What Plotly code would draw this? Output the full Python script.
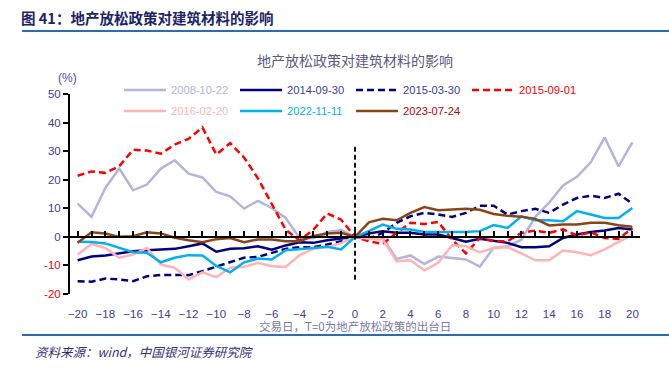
import plotly.graph_objects as go

days = list(range(-20, 21))

s2008 = [11.6, 7.0, 17.1, 23.9, 16.3, 18.3, 23.9, 26.8, 22.1, 20.8, 15.7, 14.2, 9.9, 12.6, 10.1, 6.6, -0.3, -0.5, 1.7, 2.4,
         0, 0, -0.3, -7.7, -6.5, -9.5, -6.9, -7.5, -7.9, -10.4, -3.8, -3.3, -1.0, 7.0, 12.0, 18.0, 21.0, 26.1, 34.8, 24.7, 33.1]
s2014 = [-8.2, -6.9, -6.5, -5.7, -5.0, -4.7, -4.4, -4.2, -3.3, -2.3, -5.2, -4.2, -4.0, -3.3, -4.5, -3.0, -1.9, -2.1, -1.2, -0.7,
         0, 1.2, 2.0, 1.4, 1.4, 0.8, 0.8, -0.4, -1.7, -0.7, -1.5, -2.1, -3.6, -3.6, -3.3, -0.4, 0.8, 1.7, 2.2, 3.1, 2.6]
s2015a = [-15.5, -15.7, -14.6, -14.9, -15.5, -13.8, -13.3, -13.3, -13.4, -12.0, -10.5, -8.9, -7.3, -7.0, -5.6, -4.2, -3.6, -3.6, -2.7, -1.5,
          0, -0.7, 1.4, 4.9, 7.2, 8.4, 7.8, 7.0, 8.4, 10.9, 10.9, 7.8, 9.0, 9.8, 8.4, 11.3, 13.6, 14.4, 13.6, 15.1, 11.6]
s2015b = [21.4, 22.9, 22.4, 24.7, 30.5, 30.2, 29.1, 32.3, 34.3, 38.3, 28.8, 32.8, 27.8, 20.5, 11.5, 2.5, -1.3, 2.5, 8.2, 6.0,
          0, -1.5, -2.5, 1.4, 4.9, 4.5, 5.2, -0.9, -5.8, -0.4, -1.5, -1.5, 1.4, 2.2, 1.4, 2.6, 0.5, 1.6, -0.4, -0.7, 3.1]
s2016 = [-6.2, -2.5, -3.9, -7.3, -6.2, -3.9, -9.7, -10.8, -14.9, -12.4, -14.1, -10.8, -10.5, -9.1, -10.3, -10.5, -6.4, -4.2, -3.5, -2.2,
         0, -0.7, -0.9, -8.5, -8.2, -11.7, -9.1, -2.9, -3.3, -5.4, -3.9, -3.6, -5.8, -8.2, -8.2, -4.8, -5.4, -6.4, -4.4, -1.9, 0.8]
s2022 = [-1.7, -1.8, -2.3, -3.9, -5.4, -5.6, -8.9, -7.3, -6.4, -6.5, -10.2, -12.4, -8.9, -7.6, -7.9, -4.7, -4.2, -3.9, -3.5, -4.4,
         0, 2.0, 4.3, 2.8, 2.6, 1.7, 1.7, 1.7, 1.7, 2.0, 4.1, 3.1, 7.2, 5.8, 5.8, 5.5, 9.0, 7.8, 6.6, 6.6, 10.1]
s2023 = [-2.1, 1.6, 1.2, 0.0, 0.2, 1.6, 1.2, -0.3, -1.2, -1.9, -0.8, -0.4, -1.9, -0.9, -0.9, -1.5, -1.5, 0.3, 1.2, 1.4,
         0, 5.1, 6.3, 5.8, 8.4, 10.4, 9.3, 9.5, 9.8, 9.5, 8.0, 7.4, 7.0, 6.3, 4.0, 4.3, 4.3, 4.9, 4.9, 4.1, 3.5]

series_names = ["2008-10-22", "2014-09-30", "2015-03-30", "2015-09-01", "2016-02-20", "2022-11-11", "2023-07-24"]
series_values = [s2008, s2014, s2015a, s2015b, s2016, s2022, s2023]
line_colors = ["#b4b4dc", "#000080", "#000080", "#ff0000", "#ffb4b4", "#00b0f0", "#8a4516"]
line_dashes = ["solid", "solid", "7px,4px", "7px,4px", "solid", "solid", "solid"]
legend_text_colors = ["#b4b4dc", "#3c3c9c", "#3c3c9c", "#ff0000", "#ffb4b4", "#00b0f0", "#c00000"]
legend_rows = ["legend", "legend", "legend", "legend", "legend2", "legend2", "legend2"]

y_ticks = [-20, -10, 0, 10, 20, 30, 40, 50]
x_ticks = list(range(-20, 21, 2))
event_day = 0
event_span = [-15, 32]

fig = go.Figure()
for name, vals, col, dash, tcol, lg in zip(series_names, series_values, line_colors, line_dashes,
                                           legend_text_colors, legend_rows):
    fig.add_trace(go.Scatter(
        x=days, y=vals, mode="lines",
        name=f'<span style="color:{tcol}">{name}</span>',
        line=dict(color=col, width=2.5, dash=dash),
        legend=lg,
    ))

# vertical event line on the overlay axis
fig.add_trace(go.Scatter(x=[event_day, event_day], y=event_span, mode="lines",
                         line=dict(color="black", width=1.8, dash="5px,3px"),
                         xaxis="x2", showlegend=False, hoverinfo="skip"))

xr = [-20.55, 20.55]
ytext = []
for v in y_ticks:
    c = "#ff0000" if v < 0 else "#3c3c9c"
    ytext.append(f'<span style="color:{c}">{v}</span>')

FONT = "Liberation Sans, Arial, Noto Sans CJK SC"
CJK = "Noto Sans CJK SC"

W, H = 570.0, 200.0
def px(x):
    return (x - 70) / W
def py(y):
    return (294 - y) / H

legend_common = dict(orientation="h", xanchor="left", yanchor="middle",
                     entrywidth=59, entrywidthmode="pixels", itemwidth=42,
                     font=dict(family=FONT, size=11.2), bgcolor="rgba(0,0,0,0)",
                     traceorder="normal")

fig.update_layout(
    width=669, height=371,
    margin=dict(l=70, r=29, t=94, b=77),
    paper_bgcolor="white", plot_bgcolor="white",
    font=dict(family=FONT, size=11, color="#3c3c9c"),
    showlegend=True,
    legend=dict(x=px(119), y=py(90), **legend_common),
    legend2=dict(x=px(119), y=py(111), **legend_common),
    xaxis=dict(range=xr, tickvals=x_ticks, showline=False, showgrid=False, zeroline=False,
               ticks="", ticklabelstandoff=11, tickfont=dict(size=11.5, color="#3c3c9c")),
    xaxis2=dict(range=xr, overlaying="x", anchor="free", position=20 / 70, side="bottom",
                showline=True, linecolor="black", linewidth=2, ticks="inside", ticklen=5,
                tickwidth=1.5, tickcolor="black", tick0=0, dtick=1, showticklabels=False,
                showgrid=False, zeroline=False),
    yaxis=dict(range=[-20, 50], tickvals=y_ticks, ticktext=ytext, showline=True, linecolor="black",
               linewidth=2, ticks="outside", ticklen=5, tickwidth=1.5, tickcolor="black",
               showgrid=False, zeroline=False, tickfont=dict(size=11.5)),
)

annotations = [
    dict(text="<b>图 41：地产放松政策对建筑材料的影响</b>", x=px(19), y=py(17), xanchor="left", yanchor="middle",
         font=dict(family=CJK, size=14.5, color="#1b2466")),
    dict(text="地产放松政策对建筑材料的影响", x=px(355), y=py(60), xanchor="center", yanchor="middle",
         font=dict(family=CJK, size=14, color="#5a5a80")),
    dict(text="(%)", x=px(67), y=py(78), xanchor="center", yanchor="middle",
         font=dict(family=FONT, size=12, color="#4b4ba0")),
    dict(text="交易日，T=0为地产放松政策的出台日", x=px(355), y=py(326), xanchor="center", yanchor="middle",
         font=dict(family=CJK, size=11.5, color="#7878a8")),
    dict(text="<i>资料来源：wind，中国银河证券研究院</i>", x=px(33), y=py(351), xanchor="left", yanchor="middle",
         font=dict(family=CJK, size=12.5, color="#30307a")),
]
for a in annotations:
    a.update(xref="paper", yref="paper", showarrow=False)
fig.update_layout(annotations=annotations)

fig.update_layout(shapes=[
    dict(type="line", xref="paper", yref="paper", x0=px(22), x1=px(669), y0=py(31), y1=py(31),
         line=dict(color="#2b6cb0", width=2)),
    dict(type="line", xref="paper", yref="paper", x0=px(22), x1=px(669), y0=py(335), y1=py(335),
         line=dict(color="#2b6cb0", width=2)),
])

fig.write_html("out.html", config={"displayModeBar": False},
               post_script="document.body.style.margin='0';document.body.style.overflow='hidden';")
